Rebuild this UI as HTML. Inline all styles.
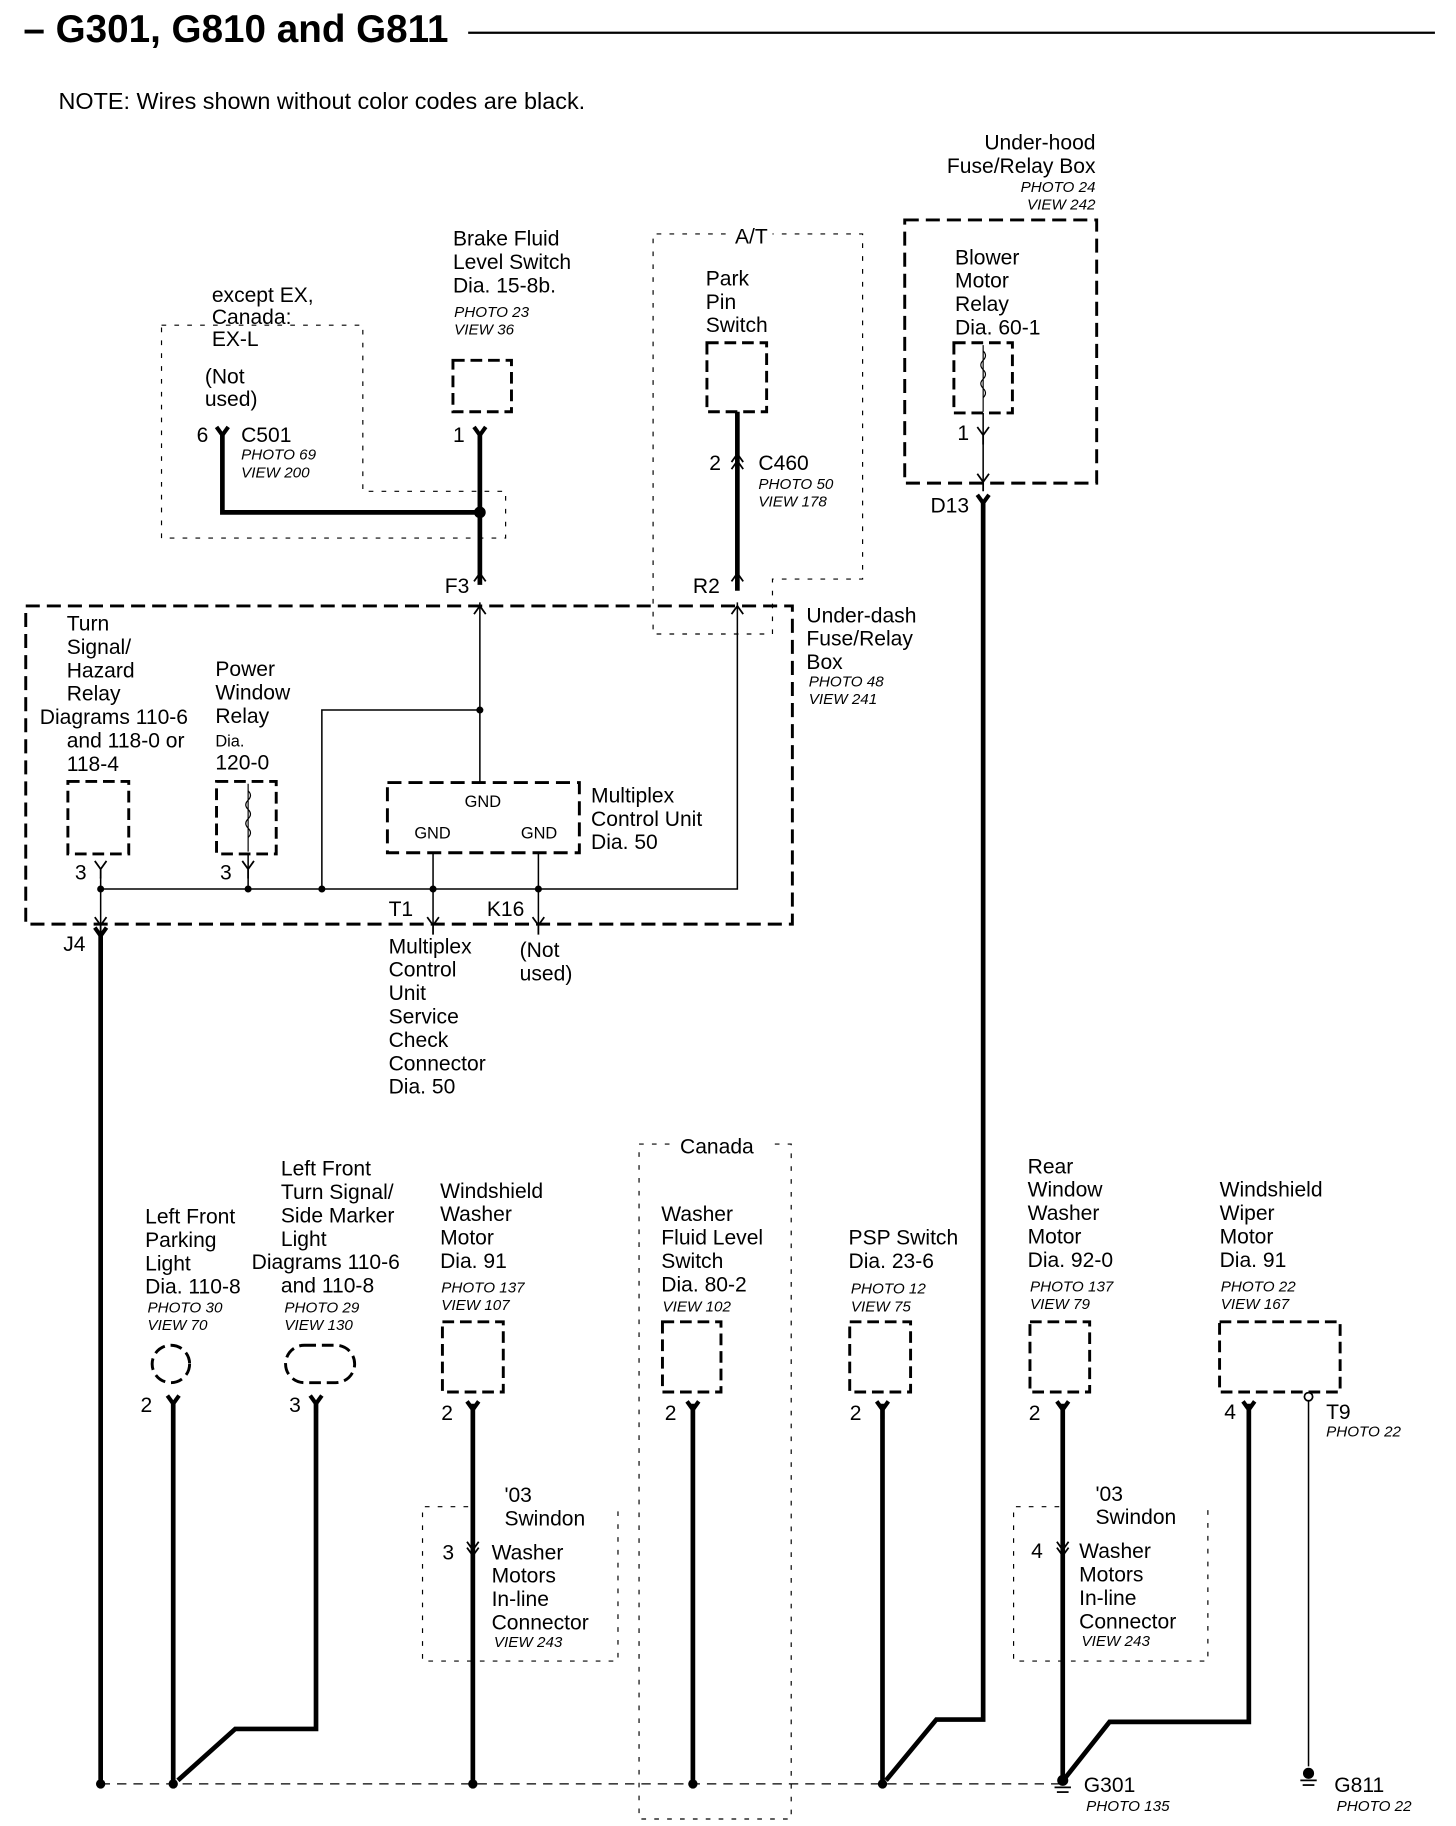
<!DOCTYPE html>
<html><head><meta charset="utf-8"><style>
html,body{margin:0;padding:0;background:#fff}
svg{display:block}
text{font-family:"Liberation Sans",sans-serif;font-size:18px;fill:#000}
.i{font-style:italic;font-size:13px}
.s{font-size:14px}
.b{font-weight:bold;font-size:33px}
</style></head><body>
<svg width="1456" height="1826" viewBox="0 0 1244 1561" preserveAspectRatio="none" xmlns="http://www.w3.org/2000/svg">
<defs>
<path id="fk" d="M-5,-7 L0,0 L5,-7 M0,0 V8" fill="none" stroke="#000" stroke-width="1.5"/>
<path id="fkt" d="M-5,-7 L0,0 L5,-7 M0,0 V8" fill="none" stroke="#000" stroke-width="3.5"/>
<path id="fkd" d="M-5,7 L0,0 L5,7" fill="none" stroke="#000" stroke-width="1.5"/>
</defs>
<!-- title -->
<text x="20" y="36" class="b">– G301, G810 and G811</text>
<line x1="400" y1="28" x2="1226" y2="28" stroke="#000" stroke-width="2"/>
<text x="50" y="93" style="font-size:20px">NOTE: Wires shown without color codes are black.</text>

<!-- thin dotted boxes -->
<g fill="none" stroke="#000" stroke-width="1" stroke-dasharray="4,7">
<path d="M138,278 H310 V420 H432 V460 H138 Z"/>
<path d="M620,200 H558 V542 H660 V495 H737 V200 H660"/>
<path d="M572,978 H546 V1555 H676 V978 H658"/>
<path d="M400,1288 H361 V1420 H528 V1288"/>
<path d="M905,1288 H866 V1420 H1032 V1288"/>
</g>
<!-- thick dashed boxes -->
<g fill="none" stroke="#000" stroke-width="2.5" stroke-dasharray="12,6">
<rect x="773" y="188" width="164" height="225"/>
<rect x="22" y="518" width="655" height="272"/>
<rect x="331" y="669" width="164" height="60"/>
</g>
<g fill="none" stroke="#000" stroke-width="2.5" stroke-dasharray="10,5">
<rect x="815" y="293" width="50" height="60"/>
<rect x="387" y="308" width="50" height="44"/>
<rect x="604" y="293" width="51" height="59"/>
<rect x="58" y="668" width="52" height="62"/>
<rect x="185" y="668" width="51" height="62"/>
<rect x="378" y="1130" width="52" height="60"/>
<rect x="566" y="1130" width="50" height="60"/>
<rect x="726" y="1130" width="52" height="60"/>
<rect x="880" y="1130" width="51" height="60"/>
<rect x="1042" y="1130" width="103" height="60"/>
<circle cx="146" cy="1166" r="16"/>
<rect x="244" y="1150" width="59" height="32" rx="16"/>
</g>
<!-- relay coils -->
<g fill="none" stroke="#000" stroke-width="1">
<path d="M840,295 V352 M840,300 q4,4 0,8 q-4,4 0,8 q4,4 0,8 q-4,4 0,8 q4,4 0,8"/>
<path d="M212,670 V728 M212,676 q4,4 0,8 q-4,4 0,8 q4,4 0,8 q-4,4 0,8 q4,4 0,8"/>
</g>
<!-- thin wires -->
<g fill="none" stroke="#000" stroke-width="1.3">
<path d="M410,515 V669"/>
<path d="M275,760 V607 H410"/>
<path d="M86,760 H630 V515"/>
<path d="M212,730 V760"/>
<path d="M86,750 V800"/>
<path d="M370,730 V790"/>
<path d="M460,730 V790"/>
<path d="M840,353 V412"/>
<path d="M1118,1195 V1510"/>
</g>
<g fill="#000">
<circle cx="86" cy="760" r="3"/><circle cx="212" cy="760" r="3"/><circle cx="275" cy="760" r="3"/>
<circle cx="370" cy="760" r="3"/><circle cx="460" cy="760" r="3"/><circle cx="410" cy="607" r="3"/>
</g>
<!-- thick wires -->
<g fill="none" stroke="#000" stroke-width="4">
<path d="M190,372 V438 H410"/>
<path d="M410,370 V500"/>
<path d="M630,352 V505"/>
<path d="M840,428 V1470 H800 L757,1522"/>
<path d="M86,800 V1525"/>
<path d="M148,1200 V1525"/>
<path d="M270,1200 V1478 H201 L152,1522"/>
<path d="M404,1200 V1525"/>
<path d="M592,1200 V1525"/>
<path d="M754,1200 V1525"/>
<path d="M908,1200 V1520"/>
<path d="M1067,1200 V1472 H948 L910,1520"/>
</g>
<circle cx="410" cy="438" r="5" fill="#000"/>
<line x1="86" y1="1525" x2="905" y2="1525" stroke="#000" stroke-width="1" stroke-dasharray="8,6"/>
<g fill="#000">
<circle cx="86" cy="1525" r="4"/><circle cx="148" cy="1525" r="4"/><circle cx="404" cy="1525" r="4"/>
<circle cx="592" cy="1525" r="4"/><circle cx="754" cy="1525" r="4"/>
</g>
<!-- grounds -->
<g stroke="#000" stroke-width="1.5">
<circle cx="908" cy="1522" r="4" fill="#000"/><line x1="901" y1="1528" x2="915" y2="1528"/><line x1="903" y1="1532" x2="913" y2="1532"/>
<circle cx="1118" cy="1516" r="4" fill="#000"/><line x1="1111" y1="1522" x2="1125" y2="1522"/><line x1="1113" y1="1526" x2="1123" y2="1526"/>
<circle cx="1118" cy="1194" r="3.5" fill="#fff"/>
</g>
<!-- forks -->
<use href="#fkt" x="190" y="372"/><use href="#fkt" x="410" y="372"/><use href="#fkt" x="840" y="430"/>
<use href="#fkt" x="86" y="800"/><use href="#fkt" x="148" y="1200"/><use href="#fkt" x="270" y="1200"/>
<use href="#fkt" x="404" y="1205"/><use href="#fkt" x="592" y="1205"/><use href="#fkt" x="754" y="1205"/>
<use href="#fkt" x="908" y="1205"/><use href="#fkt" x="1067" y="1205"/>
<use href="#fk" x="840" y="372"/><use href="#fk" x="86" y="743"/><use href="#fk" x="212" y="743"/>
<use href="#fk" x="86" y="791"/><use href="#fk" x="370" y="791"/><use href="#fk" x="460" y="791"/><use href="#fk" x="840" y="412"/>
<use href="#fkd" x="410" y="490"/><use href="#fkd" x="630" y="490"/><use href="#fkd" x="410" y="518"/><use href="#fkd" x="630" y="518"/>
<use href="#fkd" x="630" y="388"/><use href="#fkd" x="630" y="394"/>
<use href="#fk" x="404" y="1325"/><use href="#fk" x="404" y="1330"/><use href="#fk" x="908" y="1325"/><use href="#fk" x="908" y="1330"/>

<!-- labels -->
<text x="181" y="258">except EX,<tspan x="181" dy="19">Canada:</tspan><tspan x="181" dy="19">EX-L</tspan></text>
<text x="175" y="328">(Not<tspan x="175" dy="19">used)</tspan></text>
<text x="168" y="378">6</text><text x="206" y="378">C501</text>
<text x="206" y="393" class="i">PHOTO 69<tspan x="206" dy="15">VIEW 200</tspan></text>
<text x="387" y="210">Brake Fluid<tspan x="387" dy="20">Level Switch</tspan><tspan x="387" dy="20">Dia.  15-8b.</tspan></text>
<text x="388" y="271" class="i">PHOTO 23<tspan x="388" dy="15">VIEW 36</tspan></text>
<text x="387" y="378">1</text>
<text x="628" y="208">A/T</text>
<text x="603" y="244">Park<tspan x="603" dy="20">Pin</tspan><tspan x="603" dy="20">Switch</tspan></text>
<text x="606" y="402">2</text><text x="648" y="402">C460</text>
<text x="648" y="418" class="i">PHOTO 50<tspan x="648" dy="15">VIEW 178</tspan></text>
<text x="380" y="507">F3</text><text x="592" y="507">R2</text>
<text x="936" y="128" text-anchor="end">Under-hood<tspan x="936" dy="20">Fuse/Relay Box</tspan></text>
<text x="936" y="164" class="i" text-anchor="end">PHOTO 24<tspan x="936" dy="15">VIEW 242</tspan></text>
<text x="816" y="226">Blower<tspan x="816" dy="20">Motor</tspan><tspan x="816" dy="20">Relay</tspan><tspan x="816" dy="20">Dia.  60-1</tspan></text>
<text x="818" y="376">1</text>
<text x="795" y="438">D13</text>
<text x="689" y="532">Under-dash<tspan x="689" dy="20">Fuse/Relay</tspan><tspan x="689" dy="20">Box</tspan></text>
<text x="691" y="587" class="i">PHOTO 48<tspan x="691" dy="15">VIEW 241</tspan></text>
<text x="57" y="539">Turn<tspan x="57" dy="20">Signal/</tspan><tspan x="57" dy="20">Hazard</tspan><tspan x="57" dy="20">Relay</tspan><tspan x="34" dy="20">Diagrams 110-6</tspan><tspan x="57" dy="20">and 118-0 or</tspan><tspan x="57" dy="20">118-4</tspan></text>
<text x="184" y="578">Power<tspan x="184" dy="20">Window</tspan><tspan x="184" dy="20">Relay</tspan><tspan x="184" dy="20" class="s">Dia.</tspan><tspan x="184" dy="20">120-0</tspan></text>
<text x="397" y="690" class="s">GND</text><text x="354" y="717" class="s">GND</text><text x="445" y="717" class="s">GND</text>
<text x="505" y="686">Multiplex<tspan x="505" dy="20">Control Unit</tspan><tspan x="505" dy="20">Dia.  50</tspan></text>
<text x="64" y="752">3</text><text x="188" y="752">3</text>
<text x="332" y="783">T1</text><text x="416" y="783">K16</text>
<text x="54" y="813">J4</text>
<text x="332" y="815">Multiplex<tspan x="332" dy="20">Control</tspan><tspan x="332" dy="20">Unit</tspan><tspan x="332" dy="20">Service</tspan><tspan x="332" dy="20">Check</tspan><tspan x="332" dy="20">Connector</tspan><tspan x="332" dy="20">Dia.  50</tspan></text>
<text x="444" y="818">(Not<tspan x="444" dy="20">used)</tspan></text>

<text x="124" y="1046">Left Front<tspan x="124" dy="20">Parking</tspan><tspan x="124" dy="20">Light</tspan><tspan x="124" dy="20">Dia.  110-8</tspan></text>
<text x="126" y="1122" class="i">PHOTO 30<tspan x="126" dy="15">VIEW 70</tspan></text>
<text x="240" y="1005">Left Front<tspan x="240" dy="20">Turn Signal/</tspan><tspan x="240" dy="20">Side Marker</tspan><tspan x="240" dy="20">Light</tspan><tspan x="215" dy="20">Diagrams 110-6</tspan><tspan x="240" dy="20">and 110-8</tspan></text>
<text x="243" y="1122" class="i">PHOTO 29<tspan x="243" dy="15">VIEW 130</tspan></text>
<text x="376" y="1024">Windshield<tspan x="376" dy="20">Washer</tspan><tspan x="376" dy="20">Motor</tspan><tspan x="376" dy="20">Dia.  91</tspan></text>
<text x="377" y="1105" class="i">PHOTO 137<tspan x="377" dy="15">VIEW 107</tspan></text>
<text x="581" y="986">Canada</text>
<text x="565" y="1044">Washer<tspan x="565" dy="20">Fluid Level</tspan><tspan x="565" dy="20">Switch</tspan><tspan x="565" dy="20">Dia.  80-2</tspan></text>
<text x="566" y="1121" class="i">VIEW 102</text>
<text x="725" y="1064">PSP Switch<tspan x="725" dy="20">Dia.  23-6</tspan></text>
<text x="727" y="1106" class="i">PHOTO 12<tspan x="727" dy="15">VIEW 75</tspan></text>
<text x="878" y="1003">Rear<tspan x="878" dy="20">Window</tspan><tspan x="878" dy="20">Washer</tspan><tspan x="878" dy="20">Motor</tspan><tspan x="878" dy="20">Dia.  92-0</tspan></text>
<text x="880" y="1104" class="i">PHOTO 137<tspan x="880" dy="15">VIEW 79</tspan></text>
<text x="1042" y="1023">Windshield<tspan x="1042" dy="20">Wiper</tspan><tspan x="1042" dy="20">Motor</tspan><tspan x="1042" dy="20">Dia.  91</tspan></text>
<text x="1043" y="1104" class="i">PHOTO 22<tspan x="1043" dy="15">VIEW 167</tspan></text>
<text x="120" y="1207">2</text><text x="247" y="1207">3</text><text x="377" y="1214">2</text><text x="568" y="1214">2</text>
<text x="726" y="1214">2</text><text x="879" y="1214">2</text><text x="1046" y="1213">4</text>
<text x="1133" y="1213">T9</text><text x="1133" y="1228" class="i">PHOTO 22</text>
<text x="431" y="1284">'03<tspan x="431" dy="20">Swindon</tspan></text>
<text x="378" y="1333">3</text>
<text x="420" y="1333">Washer<tspan x="420" dy="20">Motors</tspan><tspan x="420" dy="20">In-line</tspan><tspan x="420" dy="20">Connector</tspan></text>
<text x="422" y="1408" class="i">VIEW 243</text>
<text x="936" y="1283">'03<tspan x="936" dy="20">Swindon</tspan></text>
<text x="881" y="1332">4</text>
<text x="922" y="1332">Washer<tspan x="922" dy="20">Motors</tspan><tspan x="922" dy="20">In-line</tspan><tspan x="922" dy="20">Connector</tspan></text>
<text x="924" y="1407" class="i">VIEW 243</text>
<text x="926" y="1532">G301</text><text x="928" y="1548" class="i">PHOTO 135</text>
<text x="1140" y="1532">G811</text><text x="1142" y="1548" class="i">PHOTO 22</text>
</svg>
</body></html>
